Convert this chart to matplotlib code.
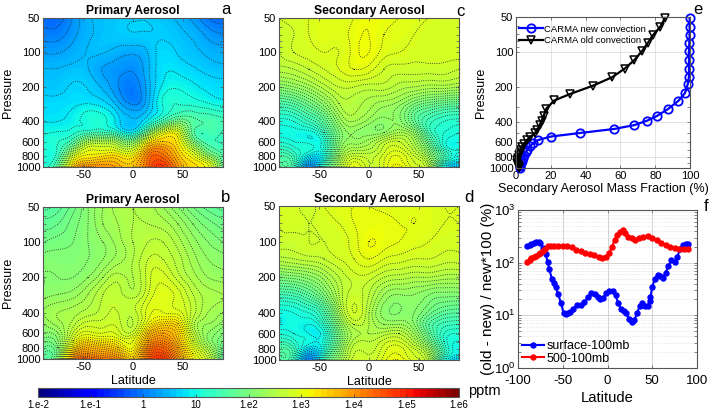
import numpy as np
import matplotlib
matplotlib.use("Agg")
import matplotlib.pyplot as plt
import matplotlib.tri as mtri
from matplotlib.ticker import NullFormatter

plt.rcParams['font.family'] = ['Liberation Sans', 'DejaVu Sans']
plt.rcParams['axes.unicode_minus'] = False

W, H = 709, 409

# latitude / pressure grid of the contour panels, values are log10(pptm)
lat = [-90, -75, -60, -45, -30, -15, 0, 15, 30, 45, 60, 75, 90]
pres = [50, 70, 100, 140, 200, 280, 400, 500, 600, 700, 800, 900, 1000]

primary_old = [
    [-.2, -.2, .1, .4, .5, .55, .6, .6, .5, .4, .2, -.1, -.2],
    [0, 0, .2, .4, .5, .55, .6, .6, .6, .5, .4, .2, .1],
    [.25, .25, .35, .45, .45, .35, .3, .45, .7, .6, .5, .4, .35],
    [.45, .45, .5, .45, .25, .15, .1, .4, .75, .75, .65, .55, .5],
    [.55, .55, .65, .6, .4, .1, -.05, .35, .85, .95, .85, .75, .7],
    [.7, .7, .75, .8, .7, .35, .05, .4, 1.0, 1.15, 1.1, 1.0, .9],
    [.8, .8, .9, 1.05, 1.05, .7, .45, .85, 1.45, 1.9, 1.6, 1.5, 1.4],
    [.95, 1.0, 1.1, 1.3, 1.35, 1.1, .85, 1.9, 2.9, 2.9, 1.6, 1.4, 1.3],
    [1.05, 1.15, 1.5, 2.3, 2.4, 2.2, 2.0, 3.1, 3.5, 3.2, 2.0, 1.4, 1.3],
    [1.1, 1.2, 2.1, 2.9, 2.9, 2.8, 2.7, 3.8, 4.0, 3.4, 2.6, 1.7, 1.4],
    [1.1, 1.3, 2.7, 3.2, 3.3, 3.3, 3.2, 4.2, 4.3, 3.6, 3.0, 2.2, 1.5],
    [1.1, 1.5, 3.1, 3.6, 3.7, 3.6, 3.5, 4.3, 4.6, 3.8, 3.3, 2.8, 1.6],
    [1.1, 1.7, 3.5, 4.1, 4.0, 3.8, 3.6, 4.4, 4.8, 3.9, 3.4, 3.0, 1.7],
]
primary_new = [
    [1.55, 1.65, 1.85, 2.1, 2.3, 2.45, 2.5, 2.45, 2.3, 2.1, 1.9, 1.75, 1.65],
    [1.75, 1.8, 1.95, 2.1, 2.3, 2.4, 2.5, 2.5, 2.45, 2.3, 2.1, 1.95, 1.85],
    [1.9, 1.95, 2.0, 2.1, 2.2, 2.35, 2.5, 2.6, 2.6, 2.45, 2.25, 2.1, 2.0],
    [2.05, 2.05, 2.05, 2.1, 2.2, 2.35, 2.5, 2.7, 2.7, 2.55, 2.35, 2.2, 2.15],
    [2.1, 2.1, 2.1, 2.2, 2.4, 2.55, 2.5, 2.75, 2.85, 2.65, 2.45, 2.3, 2.25],
    [2.15, 2.2, 2.25, 2.4, 2.6, 2.65, 2.55, 2.8, 2.95, 2.85, 2.6, 2.45, 2.4],
    [2.3, 2.4, 2.45, 2.55, 2.65, 2.7, 2.65, 2.95, 3.0, 2.95, 2.65, 2.4, 2.3],
    [2.2, 2.35, 2.55, 2.75, 2.75, 2.75, 2.6, 3.1, 3.4, 3.3, 2.55, 2.3, 2.15],
    [2.1, 2.2, 2.7, 2.95, 2.9, 2.85, 2.75, 3.5, 3.8, 3.5, 2.65, 2.2, 2.0],
    [1.95, 2.1, 2.9, 3.3, 3.2, 3.1, 3.0, 3.8, 4.1, 3.6, 2.8, 2.2, 1.9],
    [1.8, 2.0, 3.2, 3.7, 3.6, 3.4, 3.1, 4.1, 4.4, 3.8, 2.95, 2.4, 1.75],
    [1.7, 2.0, 3.6, 4.0, 3.9, 3.7, 3.3, 4.3, 4.6, 3.9, 3.1, 2.6, 1.65],
    [1.6, 2.1, 3.9, 4.4, 4.2, 4.0, 3.5, 4.4, 4.8, 4.0, 3.2, 2.7, 1.6],
]
secondary_old = [
    [2.8, 2.85, 2.9, 2.95, 2.95, 3.0, 3.1, 3.05, 3.0, 2.95, 2.9, 2.85, 2.85],
    [2.75, 2.8, 2.9, 2.95, 2.95, 3.05, 3.1, 3.0, 2.95, 2.9, 2.85, 2.85, 2.85],
    [2.7, 2.8, 2.85, 2.9, 2.9, 3.05, 3.1, 2.95, 2.9, 2.85, 2.85, 2.85, 2.85],
    [2.55, 2.6, 2.7, 2.8, 2.9, 3.0, 2.95, 2.8, 2.75, 2.75, 2.75, 2.75, 2.7],
    [2.1, 2.2, 2.35, 2.55, 2.7, 2.7, 2.65, 2.65, 2.55, 2.5, 2.45, 2.45, 2.4],
    [1.5, 1.6, 1.85, 2.15, 2.5, 2.55, 2.45, 2.35, 2.25, 2.0, 1.85, 1.75, 1.7],
    [1.05, 1.1, 1.3, 1.65, 2.2, 2.4, 2.25, 2.15, 2.15, 1.75, 1.35, 1.2, 1.15],
    [.95, .95, .95, 1.3, 2.0, 2.2, 2.15, 2.2, 2.4, 2.15, 1.4, 1.1, 1.0],
    [1.1, 1.0, .95, 1.1, 2.0, 2.25, 2.35, 2.6, 2.7, 2.4, 1.7, 1.05, .95],
    [1.3, 1.15, 1.05, 1.1, 2.1, 2.45, 2.5, 2.75, 2.85, 2.55, 1.95, 1.2, 1.0],
    [1.5, 1.3, .8, 1.0, 2.2, 2.7, 2.65, 2.85, 3.0, 2.7, 2.2, 1.4, .95],
    [1.55, 1.35, .4, 1.1, 2.3, 2.9, 2.7, 2.9, 3.05, 2.8, 2.4, 1.2, .8],
    [1.45, 1.3, 0, 1.2, 2.35, 3.0, 2.75, 2.9, 3.15, 2.85, 2.5, .9, .5],
]
secondary_new = [
    [2.8, 2.85, 2.75, 2.9, 2.95, 3.0, 3.0, 2.95, 2.95, 3.0, 2.95, 2.9, 2.9],
    [2.8, 2.85, 2.8, 2.85, 2.9, 3.0, 3.05, 3.05, 3.0, 3.0, 2.95, 2.9, 2.9],
    [2.75, 2.75, 2.8, 2.8, 2.85, 2.95, 3.1, 3.05, 3.0, 2.95, 2.9, 2.85, 2.85],
    [2.55, 2.6, 2.65, 2.7, 2.8, 2.9, 3.0, 2.9, 2.85, 2.8, 2.8, 2.75, 2.75],
    [2.0, 2.05, 2.15, 2.35, 2.6, 2.75, 2.75, 2.6, 2.55, 2.5, 2.5, 2.45, 2.45],
    [1.4, 1.45, 1.65, 2.0, 2.5, 2.75, 2.6, 2.3, 2.2, 2.2, 2.1, 2.05, 2.05],
    [.95, 1.0, 1.1, 1.45, 2.3, 2.8, 2.5, 2.15, 2.1, 2.1, 1.85, 1.65, 1.6],
    [.9, .95, .9, 1.2, 2.05, 2.6, 2.5, 2.3, 2.3, 2.1, 1.6, 1.35, 1.3],
    [1.1, 1.0, .9, 1.0, 1.9, 2.45, 2.5, 2.55, 2.6, 2.3, 1.7, 1.2, 1.1],
    [1.3, 1.15, .95, 1.05, 1.9, 2.55, 2.6, 2.75, 2.8, 2.5, 1.9, 1.2, 1.0],
    [1.5, 1.3, .7, 1.05, 2.0, 2.65, 2.65, 2.85, 2.95, 2.7, 2.2, 1.3, .9],
    [1.6, 1.3, .3, 1.15, 2.1, 2.7, 2.7, 2.9, 3.0, 2.8, 2.4, 1.3, .9],
    [1.45, 1.2, 0, 1.25, 2.2, 2.75, 2.75, 2.95, 3.1, 2.85, 2.5, 1.1, .6],
]

# panel e
new_frac = [99.8, 99.8, 99.8, 99.6, 99.4, 99.4, 99.4, 99.4, 98.7, 97.1, 93.3, 87.4, 81.3,
            75.5, 68, 56.4, 36.5, 20, 12.6, 10, 8, 6.5, 5.5, 4.5, 3.8, 3.2, 2.8, 2.5, 2.3, 2.2]
new_p = [51, 61, 72, 84, 98, 118, 139, 164, 190, 226, 264, 310, 354,
         390, 427, 461, 500, 536, 575, 610, 650, 695, 735, 780, 825, 865, 900, 935, 970, 1000]
old_frac = [85.7, 82.8, 78.6, 75.7, 72.5, 67.9, 62.5, 55.3, 44, 31.2, 22, 17.4, 15.9, 14.7,
            13.6, 12, 11, 8.2, 6.2, 4.5, 3.5, 2.8, 2.2, 1.6, 1.1, .7, .5, .9, 1.5, 2]
old_p = [51, 61, 72, 84, 98, 118, 139, 165, 196, 230, 262, 308, 355, 390,
         430, 470, 500, 540, 575, 620, 660, 700, 740, 780, 820, 860, 900, 935, 970, 1000]

# panel f
blue_lat = [-90, -87, -85, -82, -80, -77, -75, -72, -69, -67, -65, -62, -60, -58, -55, -52, -49,
            -46, -44, -42, -38, -34, -30, -26, -22, -18, -14, -11, -8, -5, -2, 2, 6, 9, 12,
            15, 18, 21, 24, 27, 30, 33, 36, 39, 42, 45, 47, 48, 50, 53, 56, 59, 62, 65, 68,
            71, 75, 78, 81, 84, 88, 90]
blue_val = [210, 220, 230, 240, 245, 245, 240, 190, 145, 105, 75, 48, 42, 35, 25, 17, 11,
            10.5, 11, 11.5, 13, 16, 16, 18, 22, 26, 25, 22, 20, 21, 26, 29, 29, 24, 17,
            13, 12, 11, 8.5, 7.5, 8, 11, 15, 17, 15, 15, 19, 22, 35, 50, 58, 55, 52, 65, 85,
            110, 105, 130, 180, 215, 225, 225]
red_lat = [-90, -87, -85, -82, -80, -77, -75, -72, -70, -66, -63, -60, -55, -50, -45, -40, -35,
           -30, -25, -20, -15, -10, -6, -2, 2, 5, 8, 11, 14, 17, 20, 23, 27, 31, 35, 40,
           45, 50, 55, 60, 65, 70, 75, 80, 85, 90]
red_val = [105, 112, 120, 130, 135, 145, 150, 165, 180, 205, 205, 205, 205, 210, 205, 195, 175,
           165, 155, 145, 140, 130, 125, 130, 155, 200, 270, 340, 390, 410, 360, 310, 290, 275, 290, 310,
           320, 290, 265, 240, 220, 200, 190, 185, 185, 180]

p_ticks = [50, 100, 200, 400, 600, 800, 1000]
fill_levels = np.linspace(-2, 6, 129)
cb_ticks = [-2, -1, 0, 1, 2, 3, 4, 5, 6]
cb_labels = ['1.e-2', '1.e-1', '1', '10', '1.e2', '1.e3', '1.e4', '1.e5', '1.e6']
cmap = plt.get_cmap('jet', 64)
edge = '#555555'


def add_ax(x0, y0, x1, y1):
    # box given in picture pixels
    return fig.add_axes([x0 / W, 1 - y1 / H, (x1 - x0) / W, (y1 - y0) / H])


def style(ax):
    for s in ax.spines.values():
        s.set_color(edge)
        s.set_linewidth(0.8)
    ax.tick_params(which='both', direction='in', color=edge, labelsize=8, length=2, width=0.5, pad=2,
                   top=True, right=True)


def pressure_axis(ax):
    ax.set_yscale('log')
    ax.set_ylim(1000, 50)
    ax.set_yticks(p_ticks)
    ax.set_yticklabels([str(p) for p in p_ticks])
    ax.yaxis.set_minor_formatter(NullFormatter())
    ax.tick_params(which='minor', length=0)


def field(ax, z, title, letter_xy, letter, step=0.1, xlabel=False, ylabel=True):
    z = np.array(z).ravel()
    # smooth the read-off grid with matplotlib's own refiner, in lat / log p
    xx, yy = np.meshgrid(lat, np.log10(pres))
    tri = mtri.Triangulation(xx.ravel() / 90, yy.ravel())
    fine, zf = mtri.UniformTriRefiner(tri).refine_field(z, subdiv=3)
    fine = mtri.Triangulation(fine.x * 90, 10 ** fine.y, fine.triangles)
    ax.tricontourf(fine, zf, levels=fill_levels, cmap='jet', vmin=-2, vmax=6, extend='both')
    ax.tricontour(fine, zf, levels=np.arange(-1, 6, step), colors='#222222', linestyles=':', linewidths=0.6)
    pressure_axis(ax)
    ax.set_xlim(-90, 90)
    ax.set_xticks([-50, 0, 50])
    style(ax)
    ax.set_title(title, fontsize=8.7, fontweight='bold', pad=3)
    if xlabel:
        ax.set_xlabel('Latitude', fontsize=9, labelpad=2)
    if ylabel:
        ax.set_ylabel('Pressure', fontsize=9, labelpad=1)
    fig.text(letter_xy[0] / W, 1 - letter_xy[1] / H, letter, fontsize=12, ha='center', va='center')


fig = plt.figure(figsize=(W / 100, H / 100), dpi=100)

field(add_ax(43, 18, 223, 167), primary_old, 'Primary Aerosol', (226, 10), 'a', step=0.18)
field(add_ax(43, 207, 223, 359), primary_new, 'Primary Aerosol', (226, 197), 'b', xlabel=True)
field(add_ax(279, 18, 459, 167), secondary_old, 'Secondary Aerosol', (460, 11), 'c', ylabel=False)
field(add_ax(279, 206, 459, 360), secondary_new, 'Secondary Aerosol', (469, 197), 'd', xlabel=True, ylabel=False)

# panel e
ax = add_ax(516, 17, 690, 168)
ax.plot(new_frac, new_p, '-o', color='#0000ff', lw=1.6, ms=6, mfc='none', mew=1.3, clip_on=False,
        label='CARMA new convection')
ax.plot(old_frac, old_p, '-v', color='black', lw=1.6, ms=6, mfc='none', mew=1.1, clip_on=False,
        label='CARMA old convection')
pressure_axis(ax)
ax.set_xlim(0, 100)
ax.set_xticks([0, 20, 40, 60, 80, 100])
ax.grid(True, color='#dddddd', lw=0.6)
style(ax)
ax.set_xlabel('Secondary Aerosol Mass Fraction (%)', fontsize=9, labelpad=1.5)
ax.set_ylabel('Pressure', fontsize=9, labelpad=1)
ax.legend(loc='upper left', frameon=False, fontsize=6.8, labelspacing=0.3, handlelength=2.6,
          handletextpad=0.1, borderaxespad=0, borderpad=0, bbox_to_anchor=(0.015, 0.95))
fig.text(698 / W, 1 - 10 / H, 'e', fontsize=12, ha='center', va='center')

# panel f
ax = add_ax(518, 210, 697, 368)
ax.plot(blue_lat, blue_val, '-o', color='#0000ff', lw=1.5, ms=3.6, label='surface-100mb')
ax.plot(red_lat, red_val, '-o', color='#ff0000', lw=1.5, ms=3.6, label='500-100mb')
ax.set_yscale('log')
ax.set_ylim(1, 1000)
ax.set_xlim(-100, 100)
ax.set_xticks([-100, -50, 0, 50, 100])
ax.grid(True, which='major', color='#cccccc', lw=0.6)
ax.grid(True, which='minor', axis='y', color='#cccccc', lw=0.4, ls=':')
style(ax)
ax.tick_params(axis='both', labelsize=9.5)
ax.tick_params(axis='x', pad=5)
ax.set_xlabel('Latitude', fontsize=10.6, labelpad=3)
ax.set_ylabel('(old - new) / new*100 (%)', fontsize=11, labelpad=-1)
ax.legend(loc='lower left', frameon=False, fontsize=9, labelspacing=0.05, handlelength=1.8,
          handletextpad=0.2, borderaxespad=0, borderpad=0, bbox_to_anchor=(0.022, 0.02))
fig.text(706 / W, 1 - 207 / H, 'f', fontsize=12, ha='center', va='center')

# colour bar
cax = add_ax(38, 388, 459, 397)
sm = plt.cm.ScalarMappable(norm=plt.Normalize(-2, 6), cmap=cmap)
cb = fig.colorbar(sm, cax=cax, orientation='horizontal', ticks=cb_ticks)
cb.ax.set_xticklabels(cb_labels)
cb.ax.tick_params(labelsize=7, length=2, width=0.5, direction='in', color='#333333', pad=2)
cb.outline.set_edgecolor(edge)
cb.outline.set_linewidth(0.8)
fig.text(468 / W, 1 - 391 / H, 'pptm', fontsize=10.5, ha='left', va='center')

fig.savefig('out.png', dpi=100)
